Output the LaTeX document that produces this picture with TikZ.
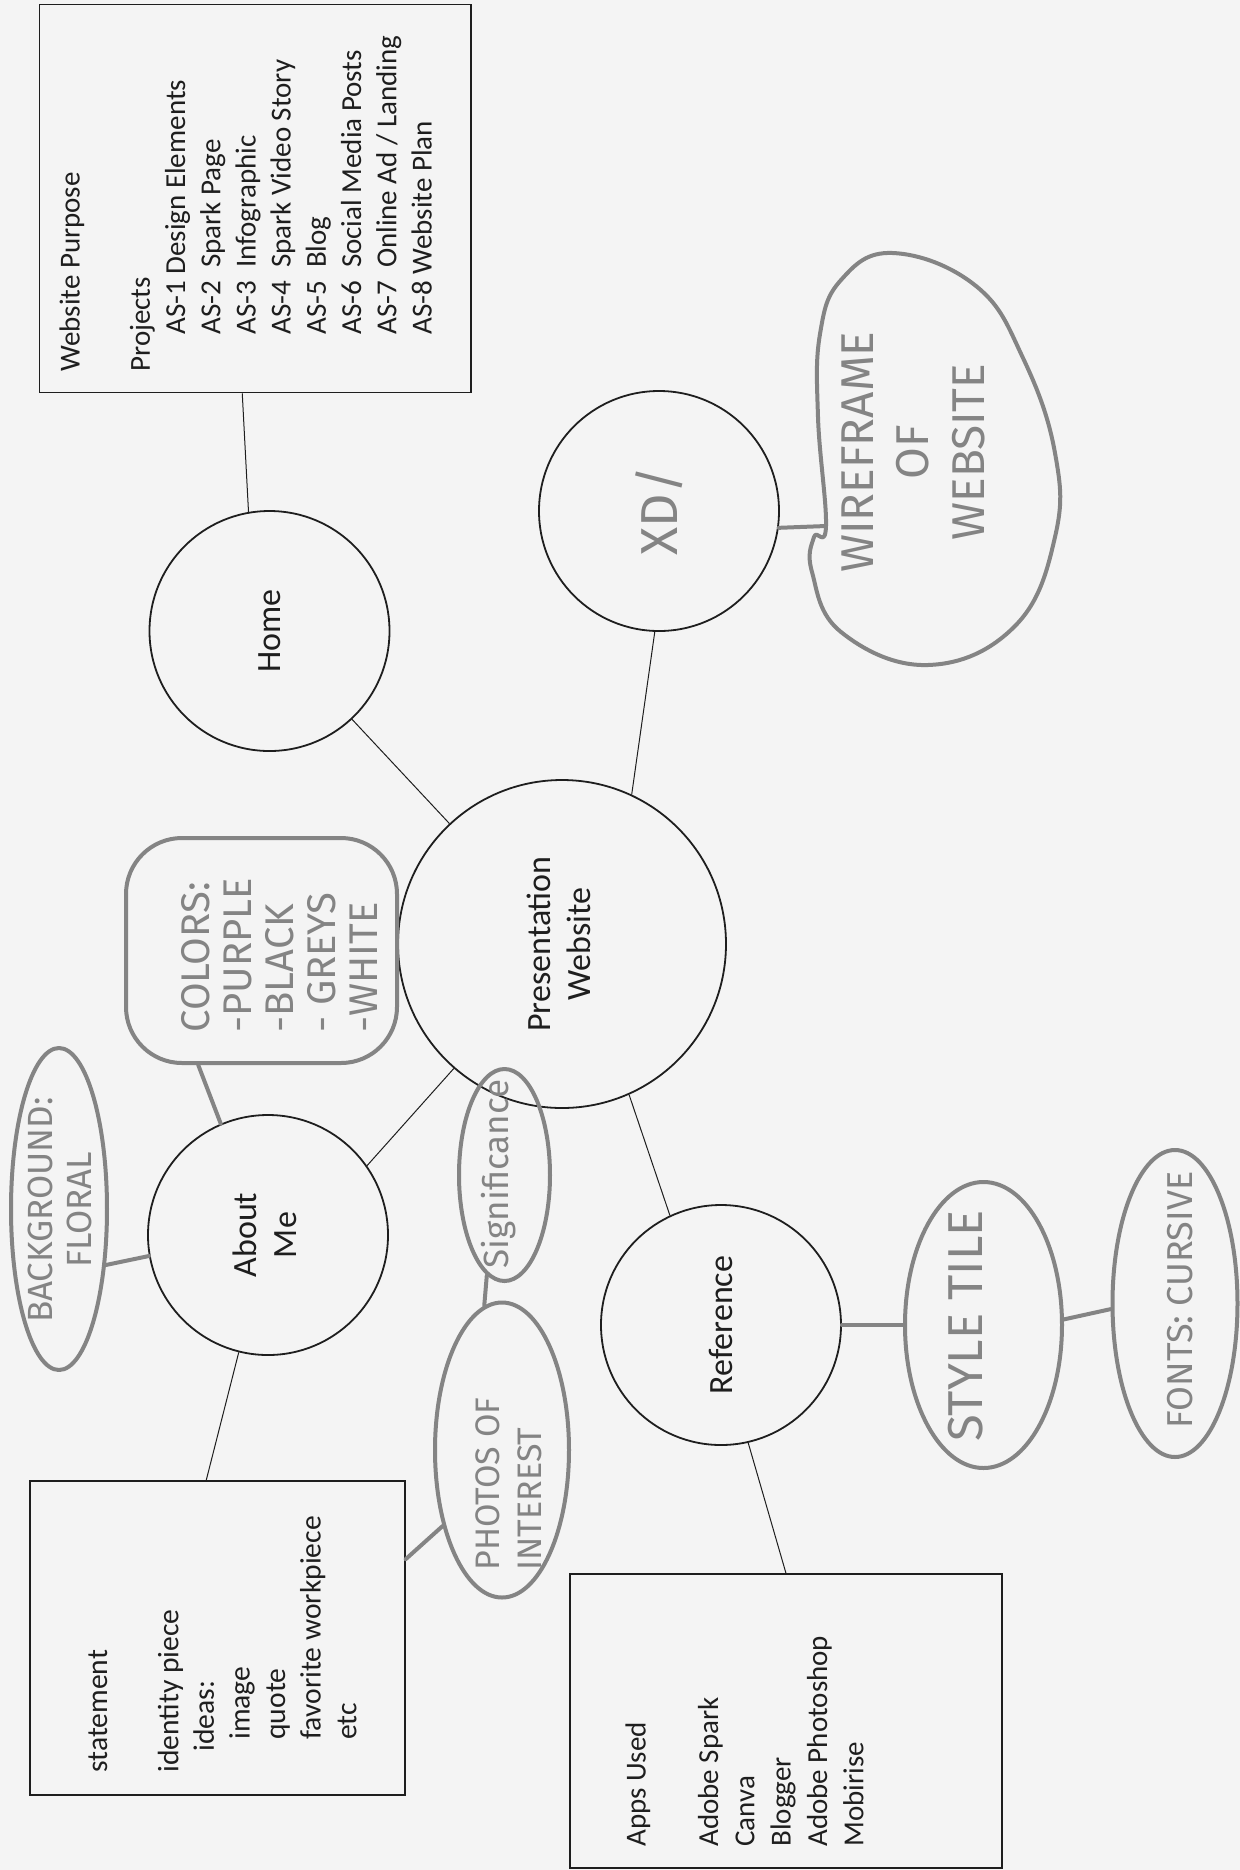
\documentclass[tikz,border=0pt]{standalone}
\usepackage{fontspec}
\setmainfont{Carlito}
\newfontfamily\hand{Fira Sans}
\usetikzlibrary{shapes.geometric,calc}
\definecolor{paper}{HTML}{F4F4F4}
\definecolor{pencil}{HTML}{848484}
\definecolor{ink}{HTML}{1E1E1E}
\begin{document}
\begin{tikzpicture}[x=0.5pt,y=-0.5pt,
  thinline/.style={draw=ink,line width=0.5pt},
  pen/.style={draw=pencil,line width=2pt,line cap=round,line join=round},
  bubble/.style={circle,draw=ink,line width=0.9pt,inner sep=0pt,minimum size=120pt,text=ink,font=\fontsize{17}{20}\selectfont},
  blob/.style={ellipse,pen,inner sep=0pt},
  hw/.style={text=pencil,rotate=90,inner sep=0pt,align=center},
  listbox/.style={rectangle,draw=ink,line width=0.7pt,inner sep=0pt},
  listtext/.style={rotate=90,anchor=north west,align=left,inner sep=0pt,text=ink}]
\useasboundingbox (0,0) rectangle (1240,1870);
\fill[paper] (0,0) rectangle (1240,1870);

% ---------- boxes ----------
\node[listbox,minimum width=215.75pt,minimum height=194pt] (tbox) at (255.25,198.75) {};
\node[listtext,font=\fontsize{14.5}{17.6}\selectfont] (tboxtext) at (59,372)
 {Website Purpose\\[17.6pt]Projects\\
  \hspace*{18.5pt}AS-1 Design Elements\\
  \hspace*{18.5pt}AS-2\ \ Spark Page\\
  \hspace*{18.5pt}AS-3\ \ Infographic\\
  \hspace*{18.5pt}AS-4\ \ Spark Video Story\\
  \hspace*{18.5pt}AS-5\ \ Blog\\
  \hspace*{18.5pt}AS-6\ \ Social Media Posts\\
  \hspace*{18.5pt}AS-7\ \ Online Ad / Landing\\
  \hspace*{18.5pt}AS-8 Website Plan};

\node[listbox,minimum width=187.5pt,minimum height=157pt] (sbox) at (217.5,1638) {};
\node[listtext,font=\fontsize{14.8}{17.8}\selectfont] (sboxtext) at (88,1773)
 {statement\\[17.8pt]identity piece\\
  \hspace*{10.5pt}ideas:\\
  \hspace*{16.5pt}image\\
  \hspace*{16.5pt}quote\\
  \hspace*{16.5pt}favorite workpiece\\
  \hspace*{16.5pt}etc};

\node[listbox,minimum width=216pt,minimum height=147pt] (apps) at (786,1721) {};
\node[listtext,font=\fontsize{14.5}{18.15}\selectfont] (appstext) at (625,1847)
 {Apps Used\\[18.15pt]Adobe Spark\\Canva\\Blogger\\Adobe Photoshop\\Mobirise};

% ---------- circles ----------
\node[bubble] (home) at (269.5,631) {\rotatebox{90}{Home}};
\node[bubble] (xd) at (659,511) {\rotatebox{90}{\hand\fontsize{26}{28}\selectfont\color{pencil}XD/}};
\node[bubble,minimum size=164pt] (pres) at (562,944)
 {\rotatebox{90}{\begin{tabular}{@{}c@{}}Presentation\\Website\end{tabular}}};
\node[bubble] (about) at (268,1235)
 {\rotatebox{90}{\begin{tabular}{@{}c@{}}About\\Me\end{tabular}}};
\node[bubble] (ref) at (721,1325) {\rotatebox{90}{Reference}};

% ---------- hand-drawn bubbles ----------
\node[pen,rectangle,rounded corners=28pt,minimum width=135.5pt,minimum height=112.5pt,inner sep=0pt] (colors) at (261.5,950.5) {};
\node[hw,align=left,anchor=north west,font=\hand\fontsize{20}{21}\selectfont] (colorstext) at (181,1033)
 {COLORS:\\-PURPLE\\-BLACK\\- GREYS\\-WHITE};

\node[blob,minimum width=48pt,minimum height=161pt] (bg) at (59,1209) {};
\node[hw,font=\hand\fontsize{17.5}{19.5}\selectfont] (bgtext) at (60,1210) {BACKGROUND:\\FLORAL};

\node[blob,minimum width=45.5pt,minimum height=106pt] (sig) at (504.5,1175) {};
\node[hw,font=\hand\fontsize{17.5}{20}\selectfont] (sigtext) at (499,1174) {Significance};

\node[blob,minimum width=67pt,minimum height=147.5pt] (photos) at (502,1450) {};
\node[hw,align=left,font=\hand\fontsize{17}{21}\selectfont] (phototext) at (509,1484) {PHOTOS OF\\INTEREST};

\node[blob,minimum width=78.5pt,minimum height=143pt] (stile) at (983.5,1325) {};
\node[hw,font=\hand\fontsize{24.5}{26}\selectfont] (stiletext) at (966,1326) {STYLE TILE};

\node[blob,minimum width=62.5pt,minimum height=153.5pt] (fonts) at (1175,1303.5) {};
\node[hw,font=\hand\fontsize{18}{20}\selectfont] (fontstext) at (1180,1300) {FONTS: CURSIVE};

\draw[pen] plot[smooth cycle,tension=0.7] coordinates {(893,253) (976,286) (1023,358) (1055,453) (1055,537) (1015,626) (928,665) (841,632) (812,572) (814,537) (826,526) (818,417) (820,334) (841,280)};
\node[hw,font=\hand\fontsize{23}{27.75}\selectfont] (wiretext) at (913,452) {WIREFRAME\\OF\\WEBSITE};
\coordinate (wirein) at (826,526);

% ---------- thin connectors ----------
\draw[thinline] ($(tbox.south west)!0.47!(tbox.south east)$) -- (home.100);
\draw[thinline] (home) -- (pres);
\draw[thinline] (pres.65) -- (xd.268);
\draw[thinline] (about.35) -- (pres.229);
\draw[thinline] (about.256) -- ($(sbox.north west)!0.47!(sbox.north east)$);
\draw[thinline] (pres.294) -- (ref.115);
\draw[thinline] (ref.283) -- (apps.north);

% ---------- pencil connectors ----------
\draw[pen] ($(colors.south west)!0.27!(colors.south east)$) -- (about.113);
\draw[pen] (bg.-50) -- (about.190);
\draw[pen] (sig.-100) -- (photos.97);
\draw[pen] (photos.-128) -- ($(sbox.north east)!0.25!(sbox.south east)$);
\draw[pen] (xd.-8) -- (wirein);
\draw[pen] (ref.east) -- (stile.west);
\draw[pen] (stile.4) -- (fonts.185);
\end{tikzpicture}
\end{document}
